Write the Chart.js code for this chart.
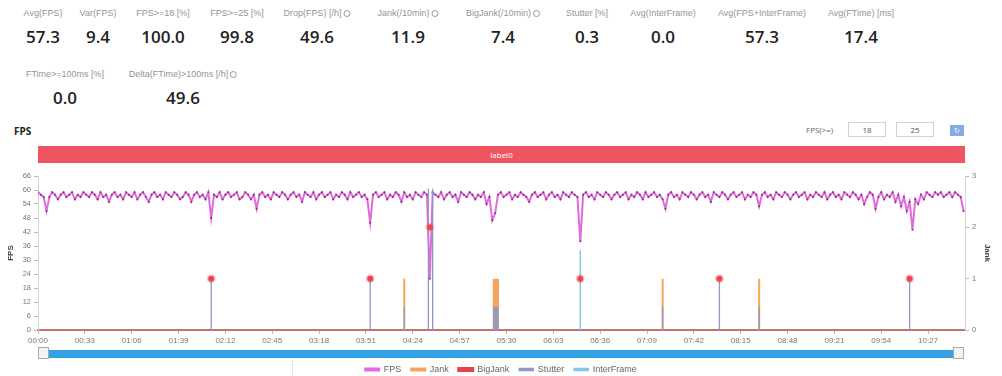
<!DOCTYPE html>
<html>
<head>
<meta charset="utf-8">
<script src="https://cdn.jsdelivr.net/npm/chart.js@4.4.0/dist/chart.umd.min.js"></script>
<style>
  html, body { margin: 0; padding: 0; width: 1002px; height: 376px; overflow: hidden; background: #fff; font-family: "Open Sans", "Liberation Sans", sans-serif; }
  .abs { position: absolute; }
  .lbl { position: absolute; transform: translateX(-50%); font-size: 9px; line-height: 12px; color: #959595; white-space: nowrap; font-family: "Liberation Sans", sans-serif; }
  .val { position: absolute; transform: translateX(-50%); font-size: 17px; line-height: 20px; font-weight: 600; color: #222; white-space: nowrap; }
  .info { display: inline-block; width: 7px; height: 7px; border: 1px solid #999; border-radius: 50%; margin-left: 2px; vertical-align: -1px; box-sizing: border-box; }
  .box { position: absolute; border: 1px solid #d2d2d2; font-size: 8px; color: #555; text-align: center; box-sizing: border-box; }
</style>
</head>
<body>
<div id="metrics"></div>

<div class="abs" style="left:14px;top:124px;font-size:10px;font-weight:700;color:#222;">FPS</div>
<div class="abs" style="left:806px;top:124px;font-size:8px;color:#666;">FPS(&gt;=)</div>
<div class="box" style="left:848px;top:122px;width:38px;height:15px;line-height:13px;">18</div>
<div class="box" style="left:896px;top:122px;width:38px;height:15px;line-height:13px;">25</div>
<div class="abs" style="left:950px;top:125px;width:14px;height:11px;background:#86aae3;color:#fff;font-size:7px;line-height:11px;text-align:center;">&#8635;</div>

<div class="abs" style="left:38px;top:146px;width:927px;height:17px;background:#ef5561;color:#fff;font-size:8px;line-height:17px;text-align:center;">label0</div>

<div class="abs" style="left:0;top:168px;width:1002px;height:216px;">
  <canvas id="fpsChart" width="1002" height="216"></canvas>
</div>

<div class="abs" style="left:44px;top:350px;width:912px;height:8px;background:#33a3e6;"></div>
<div class="abs" style="left:38px;top:347px;width:11px;height:12px;background:#f3f3f3;border:1px solid #aaa;box-sizing:border-box;"></div>
<div class="abs" style="left:953px;top:347px;width:11px;height:12px;background:#f3f3f3;border:1px solid #aaa;box-sizing:border-box;"></div>
<div class="abs" style="left:292px;top:360px;width:1px;height:16px;background:#e6e6e6;"></div>

<script>
  // summary metrics
  var metricNames = ["Avg(FPS)", "Var(FPS)", "FPS>=18 [%]", "FPS>=25 [%]", "Drop(FPS) [/h]", "Jank(/10min)",
    "BigJank(/10min)", "Stutter [%]", "Avg(InterFrame)", "Avg(FPS+InterFrame)", "Avg(FTime) [ms]",
    "FTime>=100ms [%]", "Delta(FTime)>100ms [/h]"];
  var metricValues = ["57.3", "9.4", "100.0", "99.8", "49.6", "11.9", "7.4", "0.3", "0.0", "57.3", "17.4", "0.0", "49.6"];
  var metricInfo = [false, false, false, false, true, true, true, false, false, false, false, false, true];

  // FPS sampled every 2 seconds
  var fpsStep = 2;
  var fpsValues = [
    59, 58, 57, 51, 57, 59, 58, 56, 58, 59, 57, 58, 59, 56, 58, 57, 59, 58, 57, 59,
    58, 56, 59, 57, 58, 55, 58, 59, 57, 58, 56, 59, 58, 57, 59, 56, 58, 59, 57, 55,
    58, 59, 57, 58, 56, 59, 58, 57, 59, 58, 56, 57, 59, 58, 55, 58, 59, 57, 58, 56,
    59, 48, 58, 57, 59, 56, 58, 59, 57, 58, 59, 56, 57, 59, 58, 56, 58, 52, 58, 59,
    57, 58, 56, 59, 58, 57, 59, 58, 56, 58, 59, 57, 58, 55, 59, 58, 57, 59, 56, 58,
    59, 57, 58, 59, 56, 58, 57, 59, 58, 56, 59, 57, 58, 59, 57, 58, 56, 46, 58, 59,
    57, 58, 59, 56, 58, 57, 59, 58, 55, 59, 57, 58, 56, 59, 58, 57, 59, 58, 22, 59,
    58, 57, 59, 56, 58, 59, 57, 58, 55, 59, 58, 57, 59, 58, 56, 58, 57, 59, 54, 57,
    47, 50, 58, 59, 57, 58, 59, 56, 58, 57, 59, 58, 57, 55, 58, 59, 57, 58, 59, 56,
    58, 59, 57, 58, 56, 59, 58, 57, 59, 58, 57, 38, 58, 59, 57, 58, 56, 59, 58, 57,
    59, 58, 56, 58, 59, 57, 58, 59, 56, 58, 57, 59, 58, 56, 59, 57, 58, 59, 57, 58,
    56, 52, 58, 59, 57, 58, 56, 59, 58, 57, 59, 58, 56, 58, 59, 57, 58, 55, 59, 58,
    57, 59, 58, 56, 58, 59, 57, 58, 59, 56, 58, 57, 59, 58, 53, 58, 59, 57, 58, 56,
    59, 58, 57, 59, 58, 56, 58, 59, 57, 58, 59, 56, 58, 57, 59, 58, 57, 59, 56, 58,
    59, 57, 58, 56, 59, 58, 57, 59, 58, 56, 58, 54, 57, 59, 58, 52, 57, 59, 56, 58,
    57, 59, 55, 58, 53, 57, 51, 55, 43, 56, 54, 58, 56, 59, 58, 57, 59, 58, 59, 57,
    58, 59, 57, 59, 58, 57, 51
  ];

  // events (seconds) on the right axis
  var jankTimes = [258, 321, 322, 323, 324, 440, 508];
  var jankValues = [1, 1, 1, 1, 1, 1, 1];
  var bigJankTimes = [122, 234, 276, 382, 480, 614];
  var bigJankValues = [1, 1, 2, 1, 1, 1];
  var stutterTimes = [122, 234, 258, 275, 278, 321, 322, 323, 324, 440, 480, 508, 614];
  var stutterValues = [0.96, 0.96, 0.45, 2.75, 2.75, 0.45, 0.45, 0.45, 0.45, 0.45, 0.96, 0.45, 0.96];
  var interFrameTimes = [382];
  var interFrameValues = [1.55];

  var duration = 653;
  var tickStep = 33;
  var fpsTicks = [0, 66, 6];
  var jankTicks = [0, 3, 1];

  var metricPos = [
    [43, 7], [98, 7], [163, 7], [237, 7], [317, 7], [408, 7], [503, 7], [587, 7], [663, 7], [762, 7], [861, 7],
    [65, 68], [183, 68]
  ];
  var html = "";
  metricNames.forEach(function (name, i) {
    var p = metricPos[i];
    html += '<div class="lbl" style="left:' + p[0] + 'px;top:' + p[1] + 'px;">' + name.replace(/>/g, "&gt;") +
      (metricInfo[i] ? '<span class="info"></span>' : '') + '</div>';
    html += '<div class="val" style="left:' + p[0] + 'px;top:' + (p[1] + 20) + 'px;">' + metricValues[i] + '</div>';
  });
  document.getElementById("metrics").innerHTML = html;

  function spikes(times, values) {
    var pts = [];
    times.forEach(function (t, i) {
      pts.push({ x: t, y: 0 }, { x: t, y: values[i] }, { x: t, y: 0 }, { x: t, y: null });
    });
    return pts;
  }

  function mmss(v) {
    var m = Math.floor(v / 60), s = Math.round(v % 60);
    return (m < 10 ? "0" : "") + m + ":" + (s < 10 ? "0" : "") + s;
  }

  var ctx = document.getElementById("fpsChart").getContext("2d");
  var myChart = new Chart(ctx, {
    type: "line",
    data: {
      datasets: [
        {
          label: "FPS",
          yAxisID: "y",
          data: fpsValues.map(function (v, i) { return { x: i * fpsStep, y: v }; }),
          borderColor: "#e06bdc",
          backgroundColor: "#e06bdc",
          borderWidth: 2,
          pointRadius: 1,
          pointBorderWidth: 0,
          pointBackgroundColor: "#8a2f80",
          order: 4
        },
        {
          label: "Jank",
          yAxisID: "y1",
          data: spikes(jankTimes, jankValues),
          borderColor: "#f3a65b",
          backgroundColor: "#f3a65b",
          borderWidth: 2,
          pointRadius: 0,
          order: 3
        },
        {
          label: "BigJank",
          yAxisID: "y1",
          data: spikes(bigJankTimes, bigJankValues),
          borderColor: "#e8424c",
          backgroundColor: "#e8424c",
          showLine: false,
          pointRadius: function (c) { return c.raw && c.raw.y > 0 ? 3 : 0; },
          pointBackgroundColor: "#e8424c",
          pointBorderColor: "rgba(240,90,100,0.35)",
          pointBorderWidth: 3,
          order: 0
        },
        {
          label: "Stutter",
          yAxisID: "y1",
          data: spikes(stutterTimes, stutterValues),
          borderColor: "#8d9bc2",
          backgroundColor: "#8d9bc2",
          borderWidth: 1.3,
          pointRadius: 0,
          order: 1
        },
        {
          label: "InterFrame",
          yAxisID: "y1",
          data: spikes(interFrameTimes, interFrameValues),
          borderColor: "#86c6e8",
          backgroundColor: "#86c6e8",
          borderWidth: 1.5,
          pointRadius: 0,
          order: 2
        }
      ]
    },
    options: {
      responsive: false,
      animation: false,
      layout: { padding: { top: 8, left: 0, right: 0, bottom: 0 } },
      plugins: {
        tooltip: { enabled: false },
        legend: {
          position: "bottom",
          labels: {
            boxWidth: 14,
            boxHeight: 2,
            padding: 10,
            color: "#666",
            font: { size: 9, family: "Liberation Sans" },
            sort: function (a, b) { return a.datasetIndex - b.datasetIndex; }
          }
        }
      },
      scales: {
        x: {
          type: "linear",
          min: 0,
          max: duration,
          afterFit: function (s) { s.height = 25; },
          grid: { drawOnChartArea: false, tickLength: 4, color: "#bbb" },
          border: { color: "#c0766c", width: 2 },
          ticks: {
            stepSize: tickStep,
            includeBounds: false,
            autoSkip: false,
            maxRotation: 0,
            padding: 2,
            color: "#777",
            font: { size: 8, family: "Liberation Sans" },
            callback: function (v) { return mmss(v); }
          }
        },
        y: {
          position: "left",
          min: fpsTicks[0],
          max: fpsTicks[1],
          afterFit: function (s) { s.width = 38; },
          grid: { drawOnChartArea: false, tickLength: 4, color: "#bbb" },
          border: { color: "#d6d6d6" },
          title: { display: true, text: "FPS", color: "#444", font: { size: 8, weight: "bold" }, padding: { top: 6 } },
          ticks: { stepSize: fpsTicks[2], padding: 3, color: "#777", font: { size: 7.5, family: "Liberation Sans" } }
        },
        y1: {
          position: "right",
          min: jankTicks[0],
          max: jankTicks[1],
          afterFit: function (s) { s.width = 37; },
          grid: { drawOnChartArea: false, tickLength: 4, color: "#bbb" },
          border: { color: "#d6d6d6" },
          title: { display: true, text: "Jank", color: "#444", font: { size: 8, weight: "bold" }, padding: { top: 10 } },
          ticks: { stepSize: jankTicks[2], padding: 3, color: "#777", font: { size: 7.5, family: "Liberation Sans" } }
        }
      }
    }
  });
</script>
</body>
</html>
